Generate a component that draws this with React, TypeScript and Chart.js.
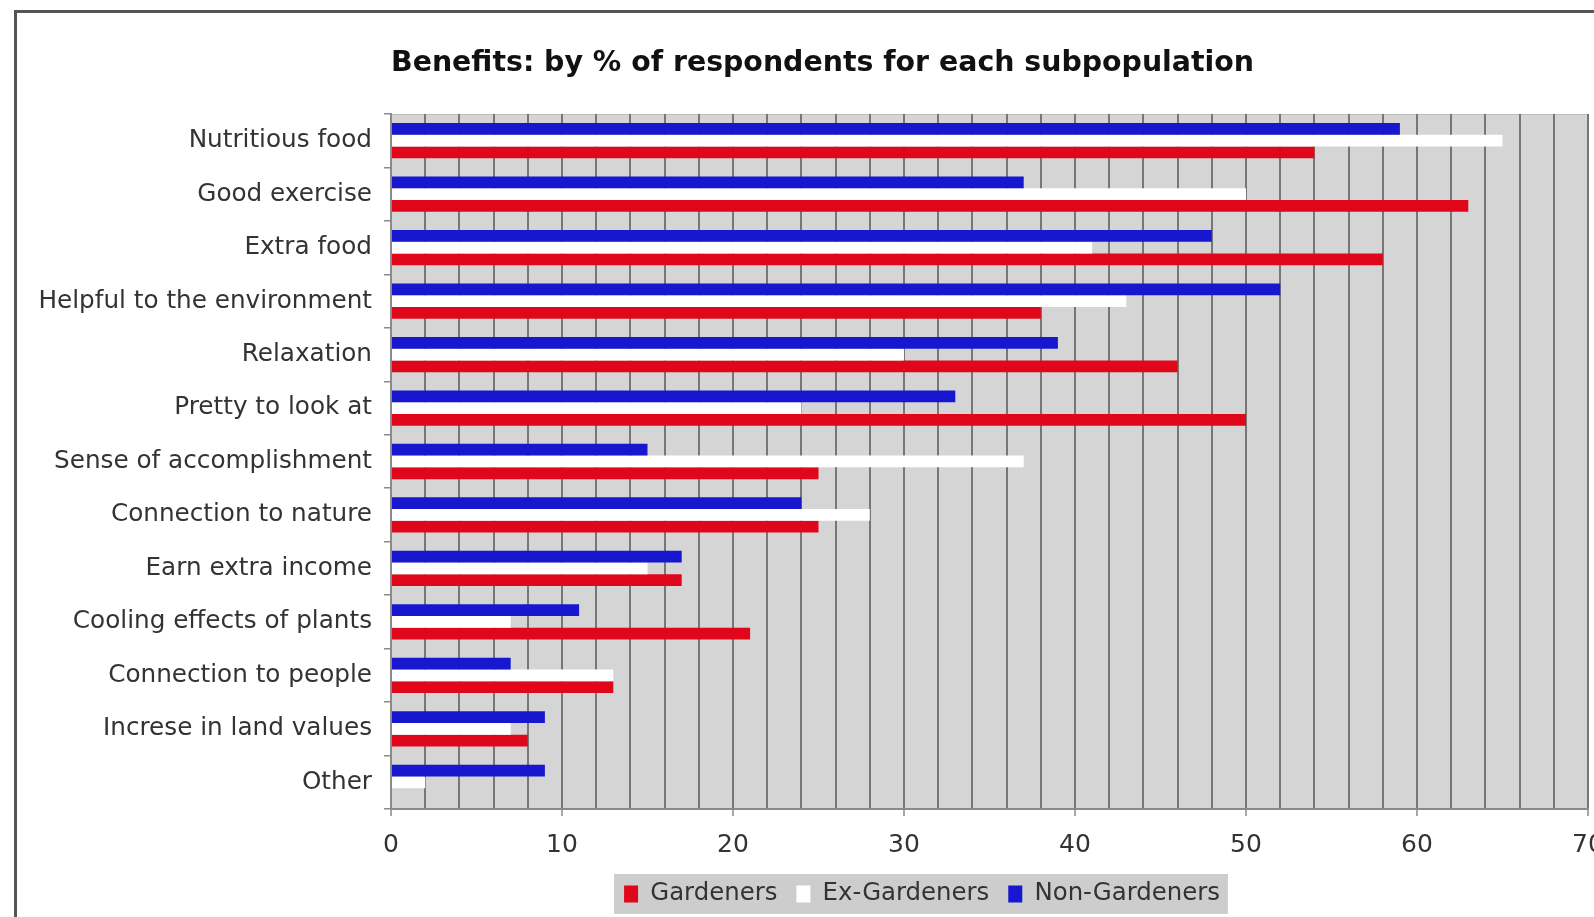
import React, { useEffect, useRef } from 'react';
import { Chart, registerables } from 'chart.js';

Chart.register(...registerables);

const categories = [
  'Nutritious food',
  'Good exercise',
  'Extra food',
  'Helpful to the environment',
  'Relaxation',
  'Pretty to look at',
  'Sense of accomplishment',
  'Connection to nature',
  'Earn extra income',
  'Cooling effects of plants',
  'Connection to people',
  'Increse in land values',
  'Other',
];
const nonGardeners = [59, 37, 48, 52, 39, 33, 15, 24, 17, 11, 7, 9, 9];
const exGardeners = [65, 50, 41, 43, 30, 24, 37, 28, 15, 7, 13, 7, 2];
const gardeners = [54, 63, 58, 38, 46, 50, 25, 25, 17, 21, 13, 8, 0];
const seriesNames = ['Non-Gardeners', 'Ex-Gardeners', 'Gardeners'];
const titleText = 'Benefits: by % of respondents for each subpopulation';
const xMin = 0;
const xMax = 70;
const gridStep = 2;
const labelStep = 10;

const FONT = 'DejaVu Sans';

const decorPlugin = {
  id: 'decor',
  afterLayout(chart: any) {
    const ca = chart.chartArea;
    if (chart.titleBlock) {
      chart.titleBlock.left = ca.left;
    }
    const lg = chart.legend;
    if (lg) {
      const desired = ca.left + 531;
      const dx = desired - (lg.left + lg.right) / 2;
      lg.left += dx;
      lg.right += dx;
      lg.top -= 11.2;
      lg.bottom -= 11.2;
    }
  },
  beforeDraw(chart: any) {
    const { ctx, chartArea: ca } = chart;
    ctx.save();
    ctx.fillStyle = '#d5d5d5';
    ctx.fillRect(ca.left, ca.top, ca.right - ca.left, ca.bottom - ca.top);
    ctx.strokeStyle = '#bdbdbd';
    ctx.lineWidth = 1;
    ctx.strokeRect(ca.left + 0.5, ca.top + 0.5, ca.right - ca.left - 1, ca.bottom - ca.top - 1);
    const lg = chart.legend;
    if (lg && lg.legendHitBoxes && lg.legendHitBoxes.length) {
      const hb = lg.legendHitBoxes;
      let minL = Infinity;
      let maxR = -Infinity;
      let cy = 0;
      hb.forEach((h: any) => {
        minL = Math.min(minL, h.left);
        maxR = Math.max(maxR, h.left + h.width);
        cy = h.top + h.height / 2;
      });
      ctx.fillStyle = '#cdcdcd';
      ctx.fillRect(minL - 10, cy - 20, maxR - minL + 18, 40);
    }
    ctx.restore();
  },
};

export default function App() {
  const canvasRef = useRef<HTMLCanvasElement | null>(null);

  useEffect(() => {
    if (!canvasRef.current) return;
    const chart = new Chart(canvasRef.current, {
      type: 'bar',
      data: {
        labels: categories,
        datasets: [
          { label: seriesNames[0], data: nonGardeners, backgroundColor: '#1717d0', borderWidth: 0 },
          { label: seriesNames[1], data: exGardeners, backgroundColor: '#ffffff', borderWidth: 0 },
          { label: seriesNames[2], data: gardeners, backgroundColor: '#e0071b', borderWidth: 0 },
        ],
      },
      options: {
        indexAxis: 'y',
        animation: false,
        responsive: true,
        maintainAspectRatio: false,
        layout: { padding: { left: 0, right: 49, top: 0, bottom: 0.6 } },
        datasets: { bar: { categoryPercentage: 0.66, barPercentage: 1 } },
        scales: {
          x: {
            min: xMin,
            max: xMax,
            ticks: {
              stepSize: gridStep,
              autoSkip: false,
              maxRotation: 0,
              callback: (v: any) => (Number(v) % labelStep === 0 ? String(v) : ''),
              font: { family: FONT, size: 25 },
              color: '#333',
              padding: 14,
            },
            grid: {
              color: '#767676',
              lineWidth: 2,
              tickLength: 7,
              tickWidth: 1.5,
              tickColor: (c: any) =>
                c.tick && Number(c.tick.value) % labelStep === 0 ? '#888' : 'rgba(0,0,0,0)',
            },
            border: { color: '#8a8a8a', width: 2 },
          },
          y: {
            ticks: { font: { family: FONT, size: 24.7 }, color: '#333', padding: 12, autoSkip: false },
            grid: { drawOnChartArea: false, color: '#8a8a8a', tickLength: 7, lineWidth: 1.5 },
            border: { color: '#8a8a8a', width: 2 },
            afterFit: (s: any) => {
              s.width = 374;
            },
          },
        },
        plugins: {
          title: {
            display: true,
            text: titleText,
            align: 'start',
            color: '#111',
            font: { family: FONT, size: 28.4, weight: 'bold' },
            padding: { top: 34, bottom: 32.9 },
          },
          legend: {
            position: 'bottom',
            reverse: true,
            labels: {
              boxWidth: 14,
              boxHeight: 17,
              padding: 19,
              color: '#333',
              font: { family: FONT, size: 24.4 },
            },
          },
          tooltip: { enabled: false },
        },
      },
      plugins: [decorPlugin],
    } as any);
    return () => chart.destroy();
  }, []);

  return (
    <div style={{ position: 'fixed', left: 0, top: 0, width: 1594, height: 917, overflow: 'hidden', background: '#fff' }}>
      <div
        style={{
          position: 'absolute',
          left: 14,
          top: 10,
          width: 1800,
          height: 1000,
          border: '3px solid #555',
          background: '#fff',
        }}
      >
        <div style={{ position: 'relative', width: 1620, height: 915 }}>
          <canvas ref={canvasRef} />
        </div>
      </div>
    </div>
  );
}
